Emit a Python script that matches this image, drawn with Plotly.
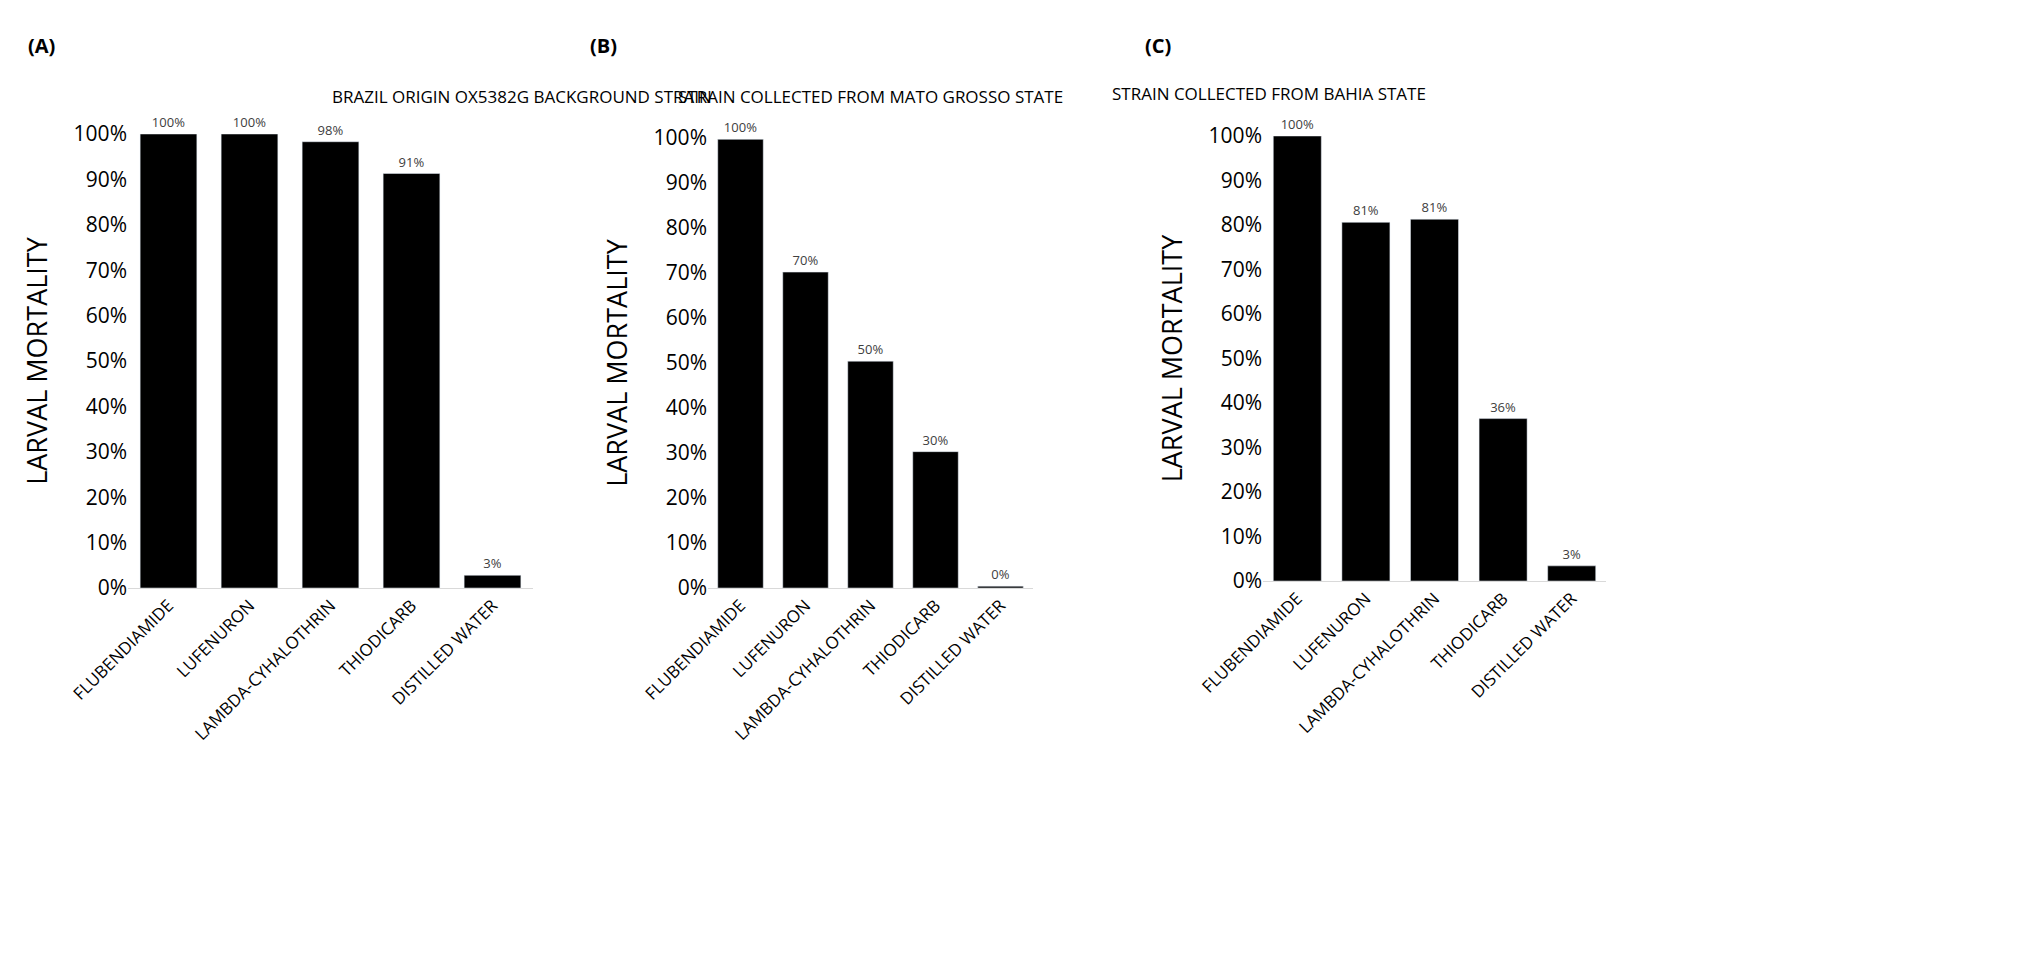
import plotly.graph_objects as go

treatments = ["FLUBENDIAMIDE", "LUFENURON", "LAMBDA-CYHALOTHRIN", "THIODICARB", "DISTILLED WATER"]
mort_a = [1.0, 1.0, 0.983, 0.913, 0.028]
mort_b = [0.997, 0.702, 0.504, 0.303, 0.004]
mort_c = [1.0, 0.806, 0.813, 0.365, 0.034]
labels_a = ["100%", "100%", "98%", "91%", "3%"]
labels_b = ["100%", "70%", "50%", "30%", "0%"]
labels_c = ["100%", "81%", "81%", "36%", "3%"]
titles = ["BRAZIL ORIGIN OX5382G BACKGROUND STRAIN",
          "STRAIN COLLECTED FROM MATO GROSSO STATE",
          "STRAIN COLLECTED FROM BAHIA STATE"]
panels = ["(A)", "(B)", "(C)"]

FONT = "Open Sans"
W, H = 2040, 976
# pixel boxes of each plot area: x0, x1, y(0%), y(100%)
boxes = [(120, 525, 580, 126), (700, 1025, 580, 130), (1255, 1598, 573, 128)]
title_pos = [(322, 75), (862, 75), (1420, 72)]
panel_pos = [(18, 22), (580, 22), (1135, 22)]

fig = go.Figure()
for i, (vals, labs) in enumerate([(mort_a, labels_a), (mort_b, labels_b), (mort_c, labels_c)]):
    n = "" if i == 0 else str(i + 1)
    fig.add_trace(go.Bar(x=treatments, y=vals, text=labs, textposition="outside",
                         textfont=dict(size=13, color="#404040", family=FONT),
                         marker_color="black", xaxis="x" + n, yaxis="y" + n,
                         cliponaxis=False, showlegend=False))
    x0, x1, y0, y1 = boxes[i]
    fig.layout["xaxis" + n] = dict(domain=[x0 / W, x1 / W], anchor="y" + n, tickangle=-45,
                                   showline=True, linecolor="#d9d9d9", ticks="", automargin=False,
                                   tickfont=dict(size=17, color="black", family=FONT))
    fig.layout["yaxis" + n] = dict(domain=[1 - y0 / H, 1 - y1 / H], anchor="x" + n,
                                   range=[0, 1], tickformat=".0%", dtick=0.1, automargin=False,
                                   showgrid=False, zeroline=False, ticks="",
                                   tickfont=dict(size=21, color="black", family=FONT),
                                   title=dict(text="LARVAL MORTALITY", standoff=18,
                                              font=dict(size=27, color="black", family=FONT)))
    tx, ty = title_pos[i]
    fig.add_annotation(x=tx / W, y=1 - ty / H, xref="paper", yref="paper", text=titles[i],
                       showarrow=False, font=dict(size=17, color="black", family=FONT))
    px_, py_ = panel_pos[i]
    fig.add_annotation(x=px_ / W, y=1 - py_ / H, xref="paper", yref="paper", text="<b>" + panels[i] + "</b>",
                       showarrow=False, xanchor="left", font=dict(size=20, color="black", family=FONT))

fig.update_layout(width=W, height=H, bargap=0.3, plot_bgcolor="white", paper_bgcolor="white",
                  margin=dict(l=0, r=0, t=0, b=0, autoexpand=False))
fig.write_html("out.html")
